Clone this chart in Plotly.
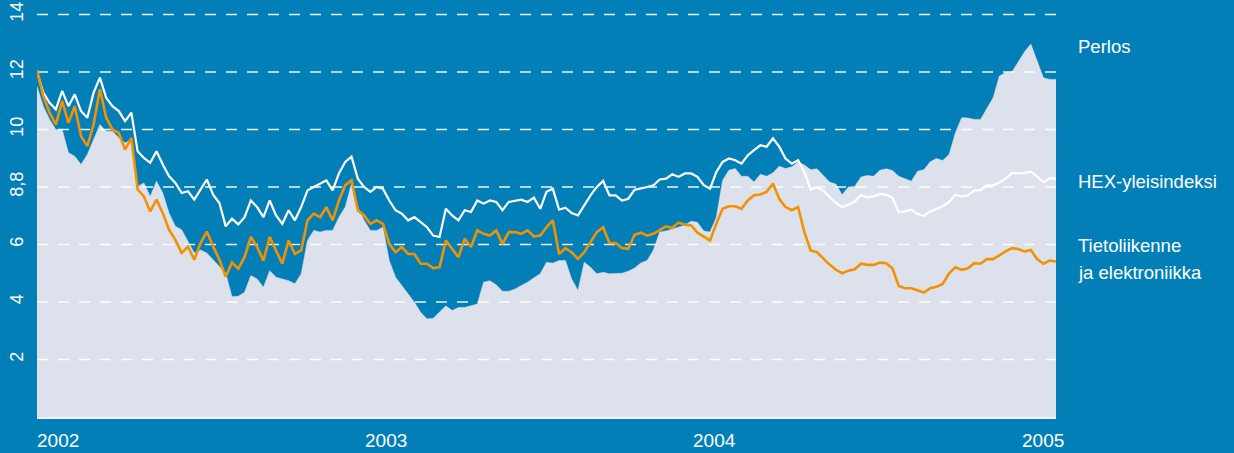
import pandas as pd
import plotly.graph_objects as go

# Weekly readings, starting 2002-01-01
start_date = "2002-01-01"

hex_index = [
    12.0, 11.28, 10.93, 10.70, 11.34, 10.81, 11.22, 10.64, 10.41, 11.28,
    11.80, 11.10, 10.81, 10.64, 10.29, 10.58, 9.24, 9.01, 8.84, 9.24,
    8.78, 8.37, 8.14, 7.79, 7.85, 7.56, 7.91, 8.26, 7.73, 7.44,
    6.63, 6.90, 6.70, 6.95, 7.53, 7.30, 6.95, 7.53, 7.01, 6.72,
    7.19, 6.84, 7.30, 7.88, 8.00, 8.12, 8.23, 7.88, 8.47, 8.87,
    9.05, 8.29, 8.00, 7.83, 8.00, 7.94, 7.53, 7.19, 7.07, 6.84,
    6.95, 6.78, 6.60, 6.31, 6.26, 7.24, 7.01, 6.84, 7.19, 7.13,
    7.53, 7.42, 7.53, 7.48, 7.19, 7.48, 7.53, 7.56, 7.48, 7.63,
    7.24, 7.83, 7.94, 7.21, 7.28, 7.09, 7.01, 7.36, 7.71, 8.00,
    8.21, 7.71, 7.71, 7.53, 7.59, 7.90, 7.94, 8.00, 8.06, 8.26,
    8.29, 8.44, 8.35, 8.47, 8.47, 8.35, 8.06, 7.94, 8.52, 8.87,
    8.99, 8.93, 8.81, 9.10, 9.28, 9.45, 9.40, 9.69, 9.40, 8.99,
    8.81, 8.93, 8.52, 7.91, 7.98, 7.88, 7.65, 7.45, 7.30, 7.38,
    7.50, 7.71, 7.64, 7.67, 7.76, 7.73, 7.62, 7.12, 7.15, 7.21,
    7.06, 7.00, 7.15, 7.23, 7.33, 7.48, 7.73, 7.67, 7.71, 7.88,
    7.88, 8.06, 8.05, 8.16, 8.30, 8.49, 8.47, 8.49, 8.53, 8.37,
    8.16, 8.31, 8.28,
]

tietoliikenne = [
    12.07, 11.16, 10.58, 10.17, 10.99, 10.23, 10.81, 9.77, 9.42, 10.17,
    11.40, 10.41, 10.00, 9.88, 9.30, 9.71, 7.91, 7.67, 7.15, 7.56,
    7.09, 6.51, 6.16, 5.70, 5.93, 5.47, 6.05, 6.45, 5.93, 5.47,
    4.88, 5.37, 5.16, 5.56, 6.26, 5.91, 5.44, 6.26, 5.79, 5.33,
    6.14, 5.67, 5.79, 6.84, 7.07, 6.95, 7.30, 6.84, 7.53, 8.06,
    8.23, 7.19, 7.01, 6.72, 6.84, 6.72, 6.02, 5.73, 5.91, 5.67,
    5.67, 5.33, 5.33, 5.18, 5.21, 6.14, 5.85, 5.56, 6.20, 5.91,
    6.49, 6.37, 6.31, 6.49, 6.02, 6.43, 6.43, 6.37, 6.49, 6.28,
    6.31, 6.60, 6.84, 5.67, 5.87, 5.73, 5.50, 5.73, 6.08, 6.43,
    6.60, 6.05, 6.05, 5.88, 5.85, 6.34, 6.41, 6.31, 6.37, 6.49,
    6.63, 6.58, 6.76, 6.69, 6.66, 6.41, 6.26, 6.14, 6.72, 7.24,
    7.33, 7.33, 7.24, 7.53, 7.71, 7.74, 7.83, 8.12, 7.59, 7.30,
    7.19, 7.30, 6.43, 5.79, 5.73, 5.50, 5.30, 5.12, 5.00, 5.09,
    5.14, 5.33, 5.29, 5.29, 5.37, 5.35, 5.17, 4.56, 4.48, 4.48,
    4.40, 4.33, 4.48, 4.53, 4.63, 5.00, 5.21, 5.12, 5.17, 5.35,
    5.33, 5.49, 5.49, 5.64, 5.76, 5.87, 5.84, 5.76, 5.81, 5.49,
    5.33, 5.44, 5.41,
]

perlos = [
    11.50, 10.81, 10.35, 10.00, 10.00, 9.19, 9.07, 8.78, 9.13, 9.65,
    10.17, 9.94, 9.94, 9.71, 9.53, 9.65, 8.02, 8.14, 7.67, 8.20,
    7.79, 7.09, 6.63, 6.51, 6.10, 5.70, 5.81, 5.70, 5.47, 5.23,
    5.00, 4.18, 4.20, 4.34, 4.92, 4.80, 4.51, 5.09, 4.86, 4.80,
    4.74, 4.63, 4.98, 6.14, 6.49, 6.43, 6.49, 6.49, 6.95, 7.30,
    8.12, 7.30, 6.84, 6.49, 6.49, 6.60, 5.44, 4.86, 4.57, 4.28,
    3.99, 3.64, 3.41, 3.43, 3.64, 3.87, 3.70, 3.81, 3.81, 3.87,
    3.93, 4.69, 4.74, 4.60, 4.37, 4.37, 4.45, 4.57, 4.69, 4.84,
    4.98, 5.38, 5.35, 5.44, 5.44, 4.80, 4.40, 5.38, 5.21, 4.98,
    5.03, 4.98, 4.98, 5.00, 5.07, 5.18, 5.36, 5.44, 5.81, 6.43,
    6.47, 6.53, 6.59, 6.67, 6.81, 6.77, 6.47, 6.43, 6.95, 8.23,
    8.58, 8.64, 8.37, 8.37, 8.17, 8.44, 8.37, 8.49, 8.72, 8.64,
    8.70, 8.87, 8.76, 8.60, 8.63, 8.41, 8.17, 8.10, 7.73, 8.00,
    8.02, 8.35, 8.40, 8.37, 8.58, 8.63, 8.57, 8.37, 8.28, 8.20,
    8.55, 8.60, 8.88, 8.99, 8.92, 9.13, 9.88, 10.41, 10.40, 10.35,
    10.35, 10.72, 11.10, 11.86, 11.98, 12.00, 12.33, 12.70, 12.97, 12.38,
    11.80, 11.74, 11.74,
]

y_ticks = [2, 4, 6, 8, 10, 12, 14]
y_ticktext = ["2", "4", "6", "8,8", "10", "12", "14"]
year_labels = ["2002", "2003", "2004", "2005"]
series_labels = ["Perlos", "HEX-yleisindeksi", "Tietoliikenne", "ja elektroniikka"]
label_levels = [12.9, 8.2, 5.95, 5.03]

dates = pd.date_range(start_date, periods=len(perlos), freq="7D")

BG = "#037fb7"
AREA = "#dce1ec"
ORANGE = "#f39200"
FONT = "Liberation Sans, Arial, sans-serif"

fig = go.Figure()

fig.add_trace(go.Scatter(
    x=dates, y=perlos, mode="lines", fill="tozeroy",
    fillcolor=AREA, line=dict(color=AREA, width=0.5), hoverinfo="skip",
))

# grid lines drawn above the area but below the lines
for v in y_ticks:
    fig.add_trace(go.Scatter(
        x=[dates[0], dates[-1]], y=[v, v], mode="lines",
        line=dict(color="rgba(255,255,255,0.92)", width=1.6, dash="11px,10px"),
        hoverinfo="skip",
    ))

fig.add_trace(go.Scatter(
    x=dates, y=hex_index, mode="lines",
    line=dict(color="white", width=2.2), hoverinfo="skip",
))
fig.add_trace(go.Scatter(
    x=dates, y=tietoliikenne, mode="lines",
    line=dict(color=ORANGE, width=2.6), hoverinfo="skip",
))

annotations = []
for yl in year_labels:
    annotations.append(dict(
        x=pd.Timestamp(f"{yl}-01-01"), xref="x", y=-0.059, yref="paper",
        text=yl, showarrow=False, xanchor="left", yanchor="middle",
        font=dict(family=FONT, size=19, color="white"), xshift=-2,
    ))
for txt, lv in zip(series_labels, label_levels):
    annotations.append(dict(
        x=1.02, xref="paper", y=lv, yref="y", text=txt, showarrow=False,
        xanchor="left", yanchor="middle",
        font=dict(family=FONT, size=18.5, color="white"),
    ))

fig.update_layout(
    width=1234, height=453,
    margin=dict(l=37, r=178, t=13, b=36),
    paper_bgcolor=BG, plot_bgcolor=BG,
    showlegend=False,
    annotations=annotations,
    xaxis=dict(
        type="date", range=[dates[0], dates[-1]], showgrid=False,
        showticklabels=False, ticks="", zeroline=False, automargin=False,
        showline=True, linecolor="#eef1f7", linewidth=1.5,
    ),
    yaxis=dict(
        range=[0, 14.05], showgrid=False, zeroline=False, showline=False,
        automargin=False, ticklabeloverflow="allow",
        tickvals=y_ticks, ticktext=y_ticktext, tickangle=-90,
        ticks="outside", ticklen=6, tickcolor=BG,
        tickfont=dict(family=FONT, size=18, color="white"),
    ),
)

fig.write_html(
    "out.html",
    config={"displayModeBar": False},
    post_script="document.body.style.margin='0';document.body.style.background='#037fb7';",
)
